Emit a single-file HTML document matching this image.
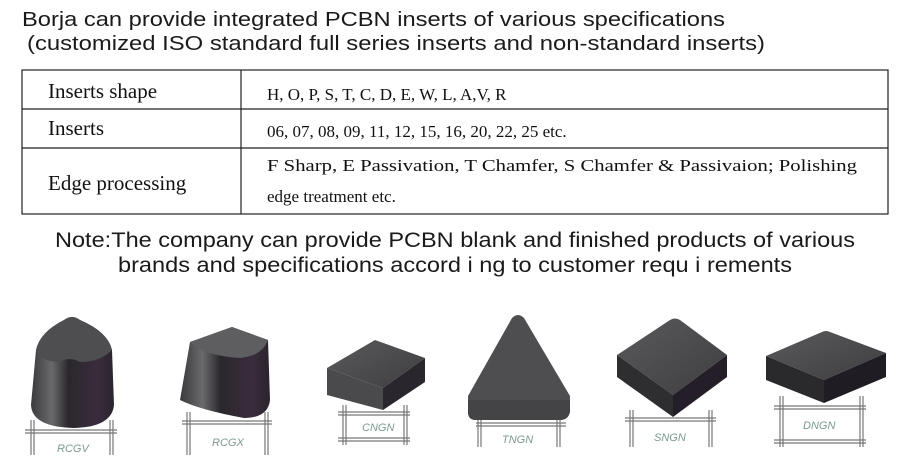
<!DOCTYPE html>
<html><head><meta charset="utf-8"><style>
html,body{margin:0;padding:0;background:#fff;width:917px;height:470px;overflow:hidden}
svg{display:block}
.t{font-family:"Liberation Sans",sans-serif;fill:#1a1a1a}
.s{font-family:"Liberation Serif",serif;fill:#111}
.d{stroke:#777;stroke-width:1.2;fill:none}
.l{font-family:"Liberation Sans",sans-serif;font-style:italic;fill:#7a9a90;font-size:11px}
</style></head><body>
<svg width="917" height="470" viewBox="0 0 917 470" xmlns="http://www.w3.org/2000/svg">
<defs>
<linearGradient id="cyl" x1="0" x2="1" y1="0" y2="0">
<stop offset="0" stop-color="#3a3a3c"/><stop offset="0.25" stop-color="#6a6a6c"/><stop offset="0.45" stop-color="#2a282c"/><stop offset="0.8" stop-color="#3a2c3e"/><stop offset="1" stop-color="#2a252c"/>
</linearGradient>
<linearGradient id="top" x1="0" x2="1" y1="0" y2="1">
<stop offset="0" stop-color="#5a5a5c"/><stop offset="1" stop-color="#3e3e40"/>
</linearGradient>
</defs>
<text class="t" x="22" y="26" font-size="20" textLength="703" lengthAdjust="spacingAndGlyphs">Borja can provide integrated PCBN inserts of various specifications</text>
<text class="t" x="27" y="50" font-size="20" textLength="738" lengthAdjust="spacingAndGlyphs">(customized ISO standard full series inserts and non-standard inserts)</text>
<rect x="22" y="70" width="866" height="144" fill="none" stroke="#222" stroke-width="1.2"/>
<line x1="22" y1="109" x2="888" y2="109" stroke="#222" stroke-width="1.2"/>
<line x1="22" y1="148" x2="888" y2="148" stroke="#222" stroke-width="1.2"/>
<line x1="241" y1="70" x2="241" y2="214" stroke="#222" stroke-width="1.2"/>
<text class="s" x="48" y="98" font-size="21">Inserts shape</text>
<text class="s" x="48" y="135" font-size="21">Inserts</text>
<text class="s" x="48" y="190" font-size="21">Edge processing</text>
<text class="s" x="267" y="100" font-size="17">H, O, P, S, T, C, D, E, W, L, A,V, R</text>
<text class="s" x="267" y="137" font-size="17">06, 07, 08, 09, 11, 12, 15, 16, 20, 22, 25 etc.</text>
<text class="s" x="267" y="171" font-size="17" textLength="590" lengthAdjust="spacingAndGlyphs">F Sharp, E Passivation, T Chamfer, S Chamfer &amp; Passivaion; Polishing</text>
<text class="s" x="267" y="202" font-size="17">edge treatment etc.</text>
<text class="t" x="55" y="247" font-size="21" textLength="800" lengthAdjust="spacingAndGlyphs">Note:The company can provide PCBN blank and finished products of various</text>
<text class="t" x="118" y="272" font-size="21" textLength="674" lengthAdjust="spacingAndGlyphs">brands and specifications accord i ng to customer requ i rements</text>

<!-- RCGV -->
<path d="M36 350 Q40 332 64 320 Q72 314 80 320 Q108 332 112 350 L114 405 Q112 427 74 428 Q32 427 31 405 Z" fill="url(#cyl)"/>
<path d="M36 350 Q40 332 64 320 Q72 314 80 320 Q108 332 112 350 Q100 362 80 362 Q70 356 60 362 Q42 362 36 350Z" fill="#4e4e50"/>
<path class="d" d="M25 430 H117 M25 433 H117 M31 420 V455 M34 420 V455 M110 420 V455 M113 420 V455"/>
<text class="l" x="57" y="452">RCGV</text>
<!-- RCGX -->
<path d="M190 342 L232 327 L268 340 L270 400 Q268 418 244 418 Q200 410 180 400 Z" fill="url(#cyl)"/>
<path d="M190 342 L232 327 L268 340 Q262 356 240 358 Q205 356 190 342Z" fill="#5e5e60"/>
<path class="d" d="M182 421 H272 M182 424 H272 M187 412 V455 M190 412 V455 M265 412 V455 M268 412 V455"/>
<text class="l" x="212" y="446">RCGX</text>
<!-- CNGN -->
<path d="M327 368 L375 340 L425 358 L383 388Z" fill="url(#top)"/>
<path d="M327 368 L383 388 L383 410 L327 395Z" fill="#4a4a4c"/>
<path d="M383 388 L425 358 L425 382 L383 410Z" fill="#2a262e"/>
<path class="d" d="M338 412 H410 M338 415 H410 M338 438 H410 M338 441 H410 M343 405 V445 M346 405 V445 M404 405 V445 M407 405 V445"/>
<text class="l" x="362" y="431" font-size="9">CNGN</text>
<!-- TNGN -->
<path d="M512 318 Q518 312 524 318 L570 396 L570 412 Q568 420 560 420 L476 420 Q468 420 468 412 L468 396Z" fill="#4e4e50"/>
<path d="M468 400 L570 400 L570 412 Q568 420 560 420 L476 420 Q468 420 468 412Z" fill="#444446"/>
<path class="d" d="M476 423 H566 M476 426 H566 M478 420 V447 M481 420 V447 M557 420 V447 M560 420 V447"/>
<text class="l" x="502" y="443">TNGN</text>
<!-- SNGN -->
<path d="M617 355 L670 320 Q675 317 680 320 L727 355 L673 395Z" fill="url(#top)"/>
<path d="M617 355 L673 395 L673 417 L617 377Z" fill="#2e2e30"/>
<path d="M673 395 L727 355 L727 377 L673 417Z" fill="#231e28"/>
<path class="d" d="M625 418 H716 M625 421 H716 M630 410 V447 M633 410 V447 M709 410 V447 M712 410 V447"/>
<text class="l" x="654" y="441">SNGN</text>
<!-- DNGN -->
<path d="M766 356 L822 332 Q826 330 830 332 L886 353 L824 380Z" fill="url(#top)"/>
<path d="M766 356 L824 380 L824 403 L766 380Z" fill="#2a2a2c"/>
<path d="M824 380 L886 353 L886 377 L824 403Z" fill="#201c24"/>
<path class="d" d="M774 406 H866 M774 409 H866 M774 440 H866 M774 443 H866 M780 396 V447 M783 396 V447 M860 396 V447 M863 396 V447"/>
<text class="l" x="803" y="429">DNGN</text>
</svg>
</body></html>
